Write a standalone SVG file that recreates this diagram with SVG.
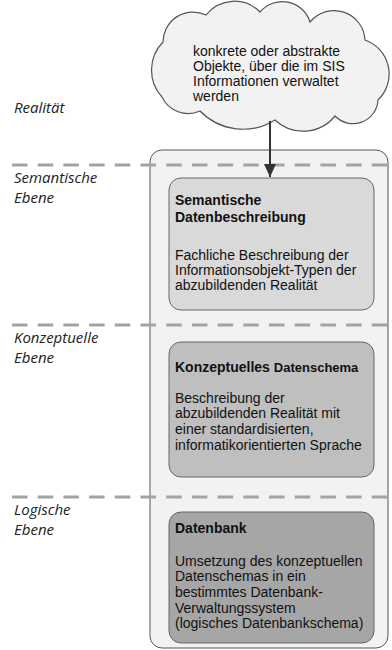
<svg xmlns="http://www.w3.org/2000/svg" width="392" height="650" viewBox="0 0 392 650">
  <style>
    .lvl { font-family: "Open Sans", "Liberation Sans", sans-serif; font-style: italic; font-size: 15px; fill: #222; }
    .txt { font-family: "Liberation Sans", Arial, sans-serif; font-size: 14px; fill: #111; }
    .b { font-weight: bold; }
    .sep { stroke: #a3a3a3; stroke-width: 3; stroke-dasharray: 15.5 10.2; fill: none; }
    .box { stroke: #666; stroke-width: 1; }
  </style>
  <defs>
    <marker id="arrow" viewBox="0 0 13 12" refX="13" refY="6" markerWidth="13" markerHeight="12" markerUnits="userSpaceOnUse" orient="auto">
      <path d="M0,0 L13,6 L0,12 z" fill="#333"/>
    </marker>
  </defs>
  <rect width="392" height="650" fill="#fff"/>

  <!-- outer container -->
  <g id="container">
    <rect x="150" y="150" width="238" height="498" rx="12" ry="12" fill="#f2f2f2" stroke="#555" stroke-width="1"/>
  </g>

  <!-- level separators -->
  <g id="separators">
    <line class="sep" x1="12" y1="165" x2="392" y2="165"/>
    <line class="sep" x1="12" y1="325" x2="392" y2="325"/>
    <line class="sep" x1="12" y1="497" x2="392" y2="497"/>
  </g>

  <!-- level labels -->
  <g id="levels">
    <text class="lvl" x="14" y="113">Realität</text>
    <text class="lvl" x="14" y="183">Semantische</text>
    <text class="lvl" x="14" y="203">Ebene</text>
    <text class="lvl" x="14" y="343">Konzeptuelle</text>
    <text class="lvl" x="14" y="363">Ebene</text>
    <text class="lvl" x="14" y="515">Logische</text>
    <text class="lvl" x="14" y="535">Ebene</text>
  </g>

  <!-- reality cloud -->
  <g id="cloud">
    <path d="M162,97 A40,40 0 0 1 163,42 A30,30 0 0 1 206,15 A36,36 0 0 1 260,12 A29,29 0 0 1 310,22 A31,31 0 0 1 365,40 A36,36 0 0 1 378,100 A25,25 0 0 1 335,116 A41,41 0 0 1 275,120 A60,60 0 0 1 200,111 A29,29 0 0 1 162,97 Z" fill="#f2f2f2" stroke="#555" stroke-width="1.2"/>
    <text class="txt" x="193" y="56">konkrete oder abstrakte</text>
    <text class="txt" x="193" y="71">Objekte, über die im SIS</text>
    <text class="txt" x="193" y="86">Informationen verwaltet</text>
    <text class="txt" x="193" y="101">werden</text>
  </g>

  <!-- semantic description -->
  <g id="semantisch">
    <rect class="box" x="169" y="178" width="205" height="132" rx="12" ry="12" fill="#d9d9d9"/>
    <text class="txt b" x="175" y="205">Semantische</text>
    <text class="txt b" x="175" y="222">Datenbeschreibung</text>
    <text class="txt" x="175" y="260">Fachliche Beschreibung der</text>
    <text class="txt" x="175" y="275">Informationsobjekt-Typen der</text>
    <text class="txt" x="175" y="290">abzubildenden Realität</text>
  </g>

  <!-- conceptual schema -->
  <g id="konzeptuell">
    <rect class="box" x="169" y="342" width="205" height="135" rx="12" ry="12" fill="#bfbfbf"/>
    <text class="txt b" x="175" y="372">Konzeptuelles <tspan font-size="13">Datenschema</tspan></text>
    <text class="txt" x="175" y="403">Beschreibung der</text>
    <text class="txt" x="175" y="418">abzubildenden Realität mit</text>
    <text class="txt" x="175" y="434">einer standardisierten,</text>
    <text class="txt" x="175" y="450">informatikorientierten Sprache</text>
  </g>

  <!-- database -->
  <g id="datenbank">
    <rect class="box" x="169" y="512" width="205" height="131" rx="12" ry="12" fill="#a6a6a6"/>
    <text class="txt b" x="175" y="533">Datenbank</text>
    <text class="txt" x="175" y="566">Umsetzung des konzeptuellen</text>
    <text class="txt" x="175" y="581">Datenschemas in ein</text>
    <text class="txt" x="175" y="597">bestimmtes Datenbank-</text>
    <text class="txt" x="175" y="613">Verwaltungssystem</text>
    <text class="txt" x="175" y="628">(logisches Datenbankschema)</text>
  </g>

  <!-- connectors -->
  <g id="connectors">
    <line x1="270" y1="121" x2="270" y2="177" stroke="#333" stroke-width="2" marker-end="url(#arrow)"/>
  </g>
</svg>
